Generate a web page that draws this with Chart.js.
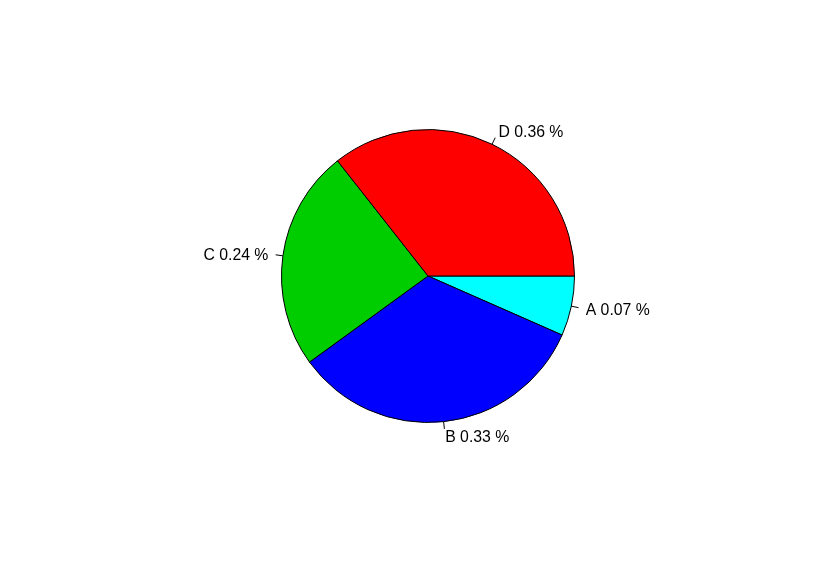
<!DOCTYPE html>
<html>
<head>
<meta charset="utf-8">
<style>
  html, body { margin: 0; padding: 0; background: #fff; }
  #wrap { width: 817px; height: 571px; }
</style>
<script src="https://cdn.jsdelivr.net/npm/chart.js@4"></script>
</head>
<body>
<div id="wrap"><canvas id="pie" width="817" height="571"></canvas></div>
<script>
const labels = ['A', 'B', 'C', 'D']
const shares = [0.066, 0.334, 0.244, 0.356]
const colors = ['#00FFFF', '#0000FF', '#00CD00', '#FF0000']

// R style labels: short tick from r to 1.05r, text at 1.1r
const pieLabels = {
  id: 'pieLabels',
  afterDraw(chart) {
    const ctx = chart.ctx
    const meta = chart.getDatasetMeta(0)
    ctx.save()
    ctx.font = '15.8px "Liberation Sans", Arial, sans-serif'
    ctx.fillStyle = '#000'
    ctx.strokeStyle = '#000'
    ctx.lineWidth = 1
    ctx.textBaseline = 'middle'
    meta.data.forEach((arc, i) => {
      const p = arc.getProps(['x', 'y', 'startAngle', 'endAngle', 'outerRadius'], true)
      const mid = (p.startAngle + p.endAngle) / 2
      const c = Math.cos(mid), s = Math.sin(mid)
      const r = p.outerRadius
      ctx.beginPath()
      ctx.moveTo(p.x + c * r, p.y + s * r)
      ctx.lineTo(p.x + c * r * 1.05, p.y + s * r * 1.05)
      ctx.stroke()
      ctx.textAlign = c > 0 ? 'left' : 'right'
      const txt = labels[i] + ' ' + shares[i].toFixed(2) + ' %'
      ctx.fillText(txt, p.x + c * r * 1.1, p.y + s * r * 1.1 + 1.5)
    })
    ctx.restore()
  }
}

new Chart(document.getElementById('pie'), {
  type: 'pie',
  data: {
    labels: labels,
    datasets: [{
      data: shares,
      backgroundColor: colors,
      borderColor: '#000',
      borderWidth: 1
    }]
  },
  options: {
    responsive: false,
    animation: false,
    devicePixelRatio: 1,
    rotation: 90,
    layout: { padding: { left: 39, right: 0, top: 129, bottom: 148 } },
    plugins: {
      legend: { display: false },
      tooltip: { enabled: false }
    }
  },
  plugins: [pieLabels]
})
</script>
</body>
</html>
